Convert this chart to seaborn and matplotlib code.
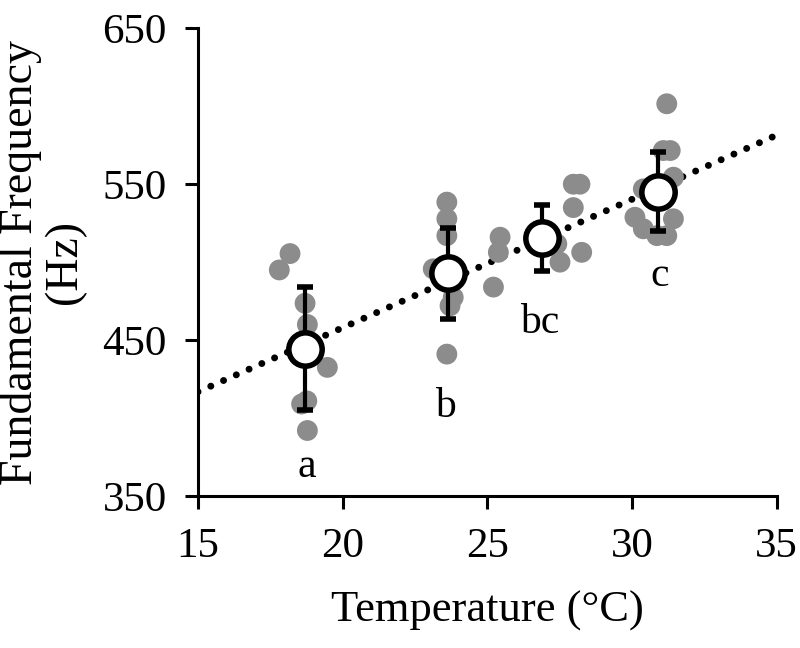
import matplotlib
matplotlib.use("Agg")
import matplotlib.pyplot as plt
import pandas as pd
import seaborn as sns

# individual calls: temperature (°C) and fundamental frequency (Hz)
temp_points = [
    18.18, 17.81, 18.70, 18.78, 19.47, 18.76, 18.58, 18.78,
    23.60, 23.60, 23.60, 23.13, 23.82, 23.71, 23.60,
    25.44, 25.38, 25.21,
    27.40, 27.51, 28.26, 27.97, 27.97, 28.20,
    31.20, 31.08, 31.32, 31.43, 30.39, 30.10, 30.39, 30.86, 31.20, 31.43,
]
freq_points = [
    505.5, 495.0, 473.6, 460.0, 432.5, 411.0, 409.0, 392.0,
    538.5, 527.8, 517.0, 495.7, 477.4, 472.0, 441.0,
    516.0, 506.3, 484.0,
    511.7, 500.0, 506.3, 535.0, 550.0, 550.0,
    601.6, 571.6, 571.6, 554.5, 547.0, 528.8, 521.4, 517.0, 517.0, 527.8,
]

# group means with SD
group_labels = ["a", "b", "bc", "c"]
mean_temp = [18.70, 23.65, 26.88, 30.91]
mean_freq = [444.5, 492.8, 515.5, 545.2]
sd_freq = [39.3, 29.0, 21.4, 25.2]
label_x = [18.76, 23.54, 26.82, 30.97]
label_y = [362.4, 400.5, 454.4, 484.7]

# linear trend endpoints
trend_temp = [15, 35]
trend_freq = [416.8, 581.5]

sns.set_style("ticks")
plt.rcParams["font.family"] = ["Liberation Serif", "DejaVu Serif"]
plt.rcParams["text.color"] = "black"
plt.rcParams["axes.labelcolor"] = "black"
plt.rcParams["xtick.color"] = "black"
plt.rcParams["ytick.color"] = "black"

df = pd.DataFrame({"temp": temp_points, "freq": freq_points})

fig = plt.figure(figsize=(8, 6.48), dpi=100)
ax = fig.add_axes([0.2475, 0.2346, 0.7234, 0.7217])

ax.plot(trend_temp, trend_freq, color="black", linewidth=5,
        linestyle=(0, (0.01, 2.0)), dash_capstyle="round", zorder=1)

sns.scatterplot(data=df, x="temp", y="freq", color="#8c8c8c", s=225,
                edgecolor="none", ax=ax, zorder=2)

ax.errorbar(mean_temp, mean_freq, yerr=sd_freq, fmt="o", color="black",
            markerfacecolor="white", markeredgecolor="black", markersize=24,
            markeredgewidth=4, elinewidth=3, capsize=6, capthick=3, zorder=3)

for lab, x, y in zip(group_labels, label_x, label_y):
    ax.text(x, y, lab, ha="center", va="baseline", fontsize=30)

ax.set_xlim(15, 35)
ax.set_ylim(350, 650)
ax.set_xticks([15, 20, 25, 30, 35])
ax.set_yticks([350, 450, 550, 650])
ax.tick_params(axis="both", labelsize=31, width=2.2, length=9.5, pad=13)
for side in ["left", "bottom"]:
    ax.spines[side].set_linewidth(2.2)
    ax.spines[side].set_color("black")
sns.despine(ax=ax)

ax.set_xlabel("Temperature (°C)", fontsize=32, labelpad=18)
ax.set_ylabel("Fundamental Frequency\n(Hz)", fontsize=33, labelpad=12,
              linespacing=1.05)

fig.savefig("out.png", dpi=100)
